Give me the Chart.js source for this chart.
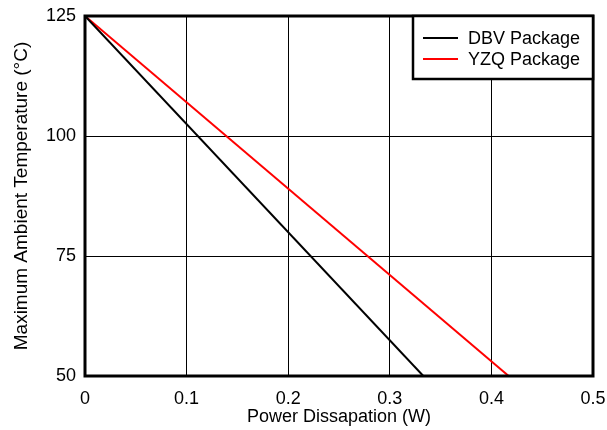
<!DOCTYPE html>
<html>
<head>
<meta charset="utf-8">
<script src="https://cdn.jsdelivr.net/npm/chart.js@4"></script>
<style>
  html, body { margin: 0; padding: 0; background: #fff; }
  #wrap { width: 607px; height: 430px; }
</style>
</head>
<body>
<div id="wrap"><canvas id="deratingChart"></canvas></div>
<script>
const seriesNames = ['DBV Package', 'YZQ Package'];
const seriesColors = ['#000000', '#ff0000'];
const powerDBV = [0, 0.333];
const tempDBV = [125, 50];
const powerYZQ = [0, 0.417];
const tempYZQ = [125, 50];
const xTicks = [0, 0.1, 0.2, 0.3, 0.4, 0.5];
const yTicks = [50, 75, 100, 125];

const font = 'Liberation Sans, Arial, Helvetica, sans-serif';

const toPoints = (xs, ys) => xs.map((x, i) => ({ x: x, y: ys[i] }));

// keep the tick labels from pushing the plot area in
const noOverflow = (scale) => {
  scale.paddingLeft = 0;
  scale.paddingRight = 0;
  scale.paddingTop = 0;
  scale.paddingBottom = 0;
};

// thick frame round the plot, plus the boxed legend in the top right corner
const framePlugin = {
  id: 'frame',
  afterDraw(chart) {
    const ctx = chart.ctx;
    const a = chart.chartArea;
    ctx.save();
    ctx.strokeStyle = '#000';
    ctx.lineWidth = 3;
    ctx.strokeRect(a.left, a.top, a.right - a.left, a.bottom - a.top);

    // legend
    const w = 180, h = 63;
    const lx = a.right - w, ly = a.top;
    ctx.fillStyle = '#fff';
    ctx.fillRect(lx, ly, w, h);
    ctx.lineWidth = 2.5;
    ctx.strokeRect(lx, ly, w, h);
    ctx.font = '18px ' + font;
    ctx.textBaseline = 'middle';
    chart.data.datasets.forEach((ds, i) => {
      const y = ly + 22 + i * 21;
      ctx.strokeStyle = ds.borderColor;
      ctx.lineWidth = 2;
      ctx.beginPath();
      ctx.moveTo(lx + 10, y);
      ctx.lineTo(lx + 45, y);
      ctx.stroke();
      ctx.fillStyle = '#000';
      ctx.fillText(ds.label, lx + 55, y + 1);
    });
    ctx.restore();
  }
};

const data = {
  datasets: [
    {
      label: seriesNames[0],
      data: toPoints(powerDBV, tempDBV),
      borderColor: seriesColors[0],
      backgroundColor: seriesColors[0],
      borderWidth: 2,
      pointRadius: 0,
      tension: 0
    },
    {
      label: seriesNames[1],
      data: toPoints(powerYZQ, tempYZQ),
      borderColor: seriesColors[1],
      backgroundColor: seriesColors[1],
      borderWidth: 2,
      pointRadius: 0,
      tension: 0
    }
  ]
};

const config = {
  type: 'line',
  data: data,
  options: {
    responsive: true,
    maintainAspectRatio: false,
    animation: false,
    layout: { padding: { top: 16, right: 14, left: 0, bottom: 0 } },
    plugins: {
      tooltip: { enabled: false },
      legend: { display: false }
    },
    scales: {
      x: {
        type: 'linear',
        min: 0,
        max: 0.5,
        afterBuildTicks: (scale) => { scale.ticks = xTicks.map(v => ({ value: v })); },
        afterFit: (scale) => { scale.height = 54; noOverflow(scale); },
        grid: { color: '#000', lineWidth: 1, drawTicks: false },
        border: { display: false },
        ticks: {
          color: '#000',
          font: { family: font, size: 18 },
          padding: 12,
          callback: (v) => String(v)
        },
        title: {
          display: true,
          text: 'Power Dissapation (W)',
          color: '#000',
          font: { family: font, size: 18 },
          padding: { top: 0, bottom: 2 }
        }
      },
      y: {
        min: 50,
        max: 125,
        afterBuildTicks: (scale) => { scale.ticks = yTicks.map(v => ({ value: v })); },
        afterFit: (scale) => { scale.width = 85; noOverflow(scale); },
        grid: { color: '#000', lineWidth: 1, drawTicks: false },
        border: { display: false },
        ticks: {
          color: '#000',
          font: { family: font, size: 18 },
          padding: 9
        },
        title: {
          display: true,
          text: 'Maximum Ambient Temperature (°C)',
          color: '#000',
          font: { family: font, size: 19 },
          padding: 10
        }
      }
    }
  },
  plugins: [framePlugin]
};

const deratingChart = new Chart(document.getElementById('deratingChart'), config);
</script>
</body>
</html>
